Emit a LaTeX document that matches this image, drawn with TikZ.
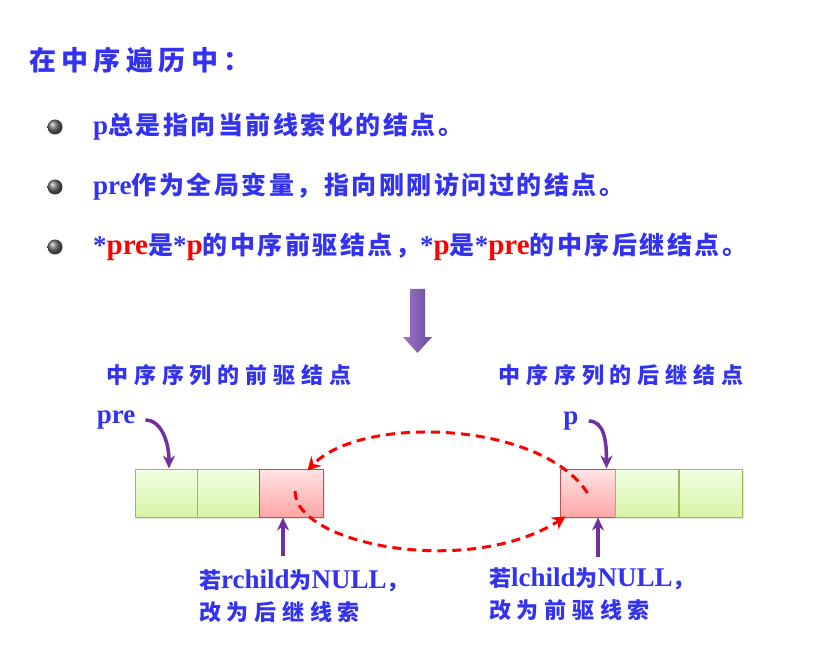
\documentclass[tikz,border=0pt]{standalone}
\usepackage{fontspec}
\setmainfont{Liberation Serif}
\newfontfamily\cjkt[LetterSpace=20]{Noto Sans CJK SC}
\newfontfamily\cjkb[LetterSpace=10]{Noto Sans CJK SC}
\newfontfamily\cjkl[LetterSpace=27]{Noto Sans CJK SC}
\newfontfamily\cjkn[LetterSpace=26]{Noto Sans CJK SC}
\usetikzlibrary{arrows.meta,shadows}
\definecolor{tblue}{RGB}{50,50,240}
\definecolor{myred}{RGB}{255,0,0}
\definecolor{gborder}{RGB}{155,187,89}
\definecolor{gtop}{RGB}{242,255,228}
\definecolor{gbot}{RGB}{215,245,165}
\definecolor{rborder}{RGB}{192,80,77}
\definecolor{rtop}{RGB}{255,228,228}
\definecolor{rbot}{RGB}{255,165,165}
\definecolor{parr}{RGB}{112,48,160}
\definecolor{aleft}{RGB}{150,120,195}
\definecolor{aright}{RGB}{110,75,160}
\newcommand\myzh[1]{{\cjkb\bfseries #1}}
\newcommand\mylat[1]{{\fontsize{27}{28}\selectfont\bfseries #1}}
\newcommand\myred[1]{{\color{myred}\fontsize{29}{28}\selectfont\bfseries #1}}
\newcommand\myzhl[1]{{\cjkn\bfseries #1}}
\newcommand\mylatb[1]{{\fontsize{27}{28}\selectfont\bfseries #1}}
\begin{document}
\begin{tikzpicture}[x=1pt,y=-1pt,
  txt/.style={text=tblue, inner sep=0pt, anchor=west},
  cellg/.style={draw=gborder, top color=gtop, bottom color=gbot, minimum height=48pt, inner sep=0pt, line width=1pt,
    drop shadow={shadow xshift=2pt, shadow yshift=-2pt, opacity=0.2}},
  cellr/.style={draw=rborder, top color=rtop, bottom color=rbot, minimum height=48pt, inner sep=0pt, line width=1pt,
    drop shadow={shadow xshift=2pt, shadow yshift=-2pt, opacity=0.2}},
  parrow/.style={draw=parr, line width=3.5pt, -{Stealth[length=13pt,width=12pt]}},
  rarrow/.style={draw=myred, line width=3pt, dash pattern=on 9pt off 6pt, -{Stealth[length=13pt,width=14pt]}},
  ball/.style={circle, inner sep=0pt, minimum size=15pt, ball color=gray!85!black}
]
\useasboundingbox[fill=white] (0,0) rectangle (838,668);

% title
\node[txt, font=\cjkt\fontsize{27}{30}\selectfont\bfseries] (title) at (29,60) {在中序遍历中：};

% bullets
\node[ball] (b1) at (55,127) {};
\node[ball] (b2) at (55,187) {};
\node[ball] (b3) at (55,247) {};
\node[txt, font=\fontsize{25}{28}\selectfont] (t1) at (93,127) {\mylat{p}\myzh{总是指向当前线索化的结点。}};
\node[txt, font=\fontsize{25}{28}\selectfont] (t2) at (93,187) {\mylat{pre}\myzh{作为全局变量，指向刚刚访问过的结点。}};
\node[txt, font=\fontsize{25}{28}\selectfont] (t3) at (93,247) {\mylat{*}\myred{pre}\myzh{是}\mylat{*}\myred{p}\myzh{的中序前驱结点，}\mylat{*}\myred{p}\myzh{是}\mylat{*}\myred{pre}\myzh{的中序后继结点。}};

% big down arrow
\shade[left color=aleft, right color=aright] (410,289) -- (425,289) -- (425,337) -- (432,337) -- (417.5,353) -- (403,337) -- (410,337) -- cycle;

% section labels
\node[txt, font=\cjkl\fontsize{22}{26}\selectfont\bfseries] (lab1) at (106,375) {中序序列的前驱结点};
\node[txt, font=\cjkl\fontsize{22}{26}\selectfont\bfseries] (lab2) at (498,375) {中序序列的后继结点};

% cells
\node[cellg, minimum width=62pt] (c1) at (166,493) {};
\node[cellg, minimum width=62pt] (c2) at (228,493) {};
\node[cellr, minimum width=64pt] (c3) at (291,493) {};
\node[cellr, minimum width=55pt] (d1) at (587.5,493) {};
\node[cellg, minimum width=63pt] (d2) at (647,493) {};
\node[cellg, minimum width=63pt] (d3) at (710.5,493) {};

% pointer labels
\node[txt, anchor=center, font=\fontsize{27}{28}\selectfont\bfseries] (pre) at (116,420) {pre};
\node[txt, anchor=center, font=\fontsize{27}{28}\selectfont\bfseries] (p) at (571,421) {p};

\draw[parrow, shorten <=10pt] (pre.east) .. controls +(26,0) and +(0,-26) .. ([xshift=3pt]c1.north);
\draw[parrow, shorten <=10pt] (p.east) .. controls +(26,0) and +(0,-26) .. ([xshift=-9pt]d1.north east);

% bottom arrows & notes
\coordinate (u1) at (283,556);
\coordinate (u2) at (598,557);
\draw[parrow] (u1) -- ([xshift=-8pt]c3.south);
\draw[parrow] (u2) -- ([xshift=10.5pt]d1.south);

\node[txt, align=left, font=\fontsize{22}{32}\selectfont] (n1) at (199,596) {\myzhl{若}\mylatb{rchild}\myzhl{为}\mylatb{NULL}\myzhl{，}\\\myzhl{改为后继线索}};
\node[txt, align=left, font=\fontsize{22}{32}\selectfont] (n2) at (489,594) {\myzhl{若}\mylatb{lchild}\myzhl{为}\mylatb{NULL}\myzhl{，}\\\myzhl{改为前驱线索}};

% red dashed threads
\draw[rarrow] (d1.center) .. controls (540,420) and (360,415) .. ([xshift=-16pt,yshift=-2pt]c3.north east);
\draw[rarrow] ([xshift=4pt,yshift=2pt]c3.center) .. controls (295,545) and (470,578) .. ([xshift=6pt,yshift=1pt]d1.south west);
\end{tikzpicture}
\end{document}
